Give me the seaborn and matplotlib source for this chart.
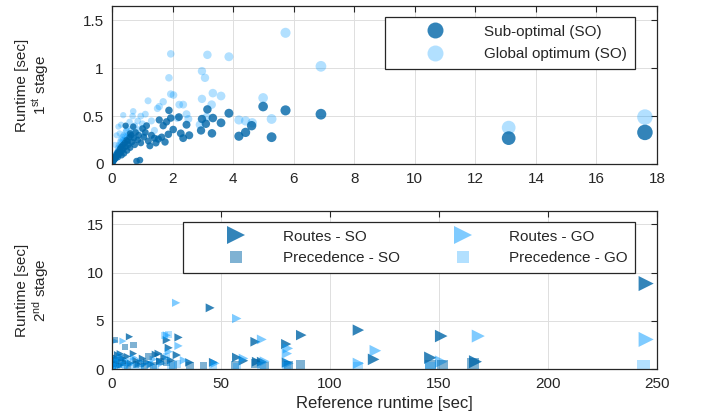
import numpy as np
import pandas as pd
import matplotlib
matplotlib.use("Agg")
import matplotlib.pyplot as plt
from matplotlib.lines import Line2D
import seaborn as sns

# ---------------- data: 1st stage ----------------
go1_x = [0.02, 0.04, 0.05, 0.06, 0.08, 0.09, 0.10, 0.12, 0.13, 0.15, 0.16, 0.18, 0.20, 0.21, 0.23,
         0.25, 0.27, 0.28, 0.30, 0.32, 0.33, 0.35, 0.37, 0.38, 0.40, 0.42, 0.44, 0.46, 0.48, 0.50,
         0.52, 0.55, 0.58, 0.60, 0.62, 0.65, 0.68, 0.70, 0.72, 0.75, 0.80, 0.85, 0.90, 0.95, 1.00,
         1.05, 1.10, 1.19, 1.30, 1.40, 1.50, 0.21, 0.37, 0.30, 0.15, 0.10, 0.25,
         0.07, 0.11, 0.14, 0.17, 0.19, 0.22, 0.26, 0.29, 0.34, 0.39, 0.43, 0.47,
         1.56, 1.69, 1.88, 1.94, 1.94, 2.03, 2.16, 2.22, 2.35, 2.46, 2.52, 2.90, 2.97, 2.97, 3.07,
         3.12, 3.15, 3.29, 3.33, 3.60, 3.86, 4.19, 4.41, 4.63, 4.99, 5.27, 5.73, 6.90, 13.1, 17.6]
go1_y = [0.01, 0.03, 0.02, 0.05, 0.04, 0.07, 0.05, 0.08, 0.10, 0.07, 0.12, 0.10, 0.14, 0.09, 0.16,
         0.12, 0.19, 0.15, 0.22, 0.13, 0.18, 0.25, 0.20, 0.30, 0.16, 0.24, 0.33, 0.21, 0.28, 0.38,
         0.26, 0.31, 0.44, 0.22, 0.35, 0.29, 0.50, 0.55, 0.33, 0.40, 0.27, 0.45, 0.36, 0.50, 0.42,
         0.30, 0.52, 0.66, 0.45, 0.35, 0.58, 0.39, 0.51, 0.41, 0.30, 0.20, 0.32,
         0.06, 0.09, 0.11, 0.13, 0.17, 0.20, 0.23, 0.26, 0.28, 0.24, 0.29, 0.35,
         0.60, 0.65, 0.90, 1.15, 0.73, 0.72, 0.48, 0.62, 0.62, 0.52, 0.47, 0.41, 0.97, 0.68, 0.90,
         0.49, 1.14, 0.62, 0.74, 0.71, 1.12, 0.46, 0.45, 0.43, 0.69, 0.47, 1.37, 1.02, 0.38, 0.49]

so1_x = [0.02, 0.03, 0.05, 0.07, 0.08, 0.10, 0.11, 0.13, 0.14, 0.16, 0.18, 0.20, 0.22, 0.24, 0.26,
         0.28, 0.30, 0.32, 0.34, 0.36, 0.38, 0.40, 0.42, 0.45, 0.48, 0.50, 0.52, 0.55, 0.58, 0.60,
         0.63, 0.66, 0.70, 0.72, 0.75, 0.78, 0.81, 0.85, 0.88, 0.92, 0.95, 1.01, 1.05, 1.10, 1.14,
         1.20, 1.25, 1.30, 1.40, 1.45, 0.45, 0.60,
         1.53, 1.56, 1.64, 1.69, 1.75, 1.80, 1.86, 1.88, 1.94, 2.02, 2.21, 2.27, 2.35, 2.46, 2.55,
         2.94, 2.97, 3.10, 3.15, 3.30, 3.33, 3.60, 3.86, 4.19, 4.41, 4.61, 4.99, 5.27, 5.73, 6.90,
         13.1, 17.6]
so1_y = [0.01, 0.02, 0.03, 0.04, 0.06, 0.05, 0.08, 0.06, 0.10, 0.08, 0.12, 0.07, 0.13, 0.10, 0.16,
         0.12, 0.18, 0.09, 0.14, 0.20, 0.16, 0.11, 0.22, 0.18, 0.25, 0.14, 0.24, 0.20, 0.28, 0.17,
         0.30, 0.23, 0.39, 0.27, 0.20, 0.33, 0.03, 0.25, 0.30, 0.04, 0.22, 0.37, 0.28, 0.33, 0.40,
         0.24, 0.19, 0.30, 0.27, 0.22, 0.40, 0.32,
         0.26, 0.46, 0.28, 0.40, 0.23, 0.44, 0.31, 0.56, 0.48, 0.36, 0.49, 0.32, 0.27, 0.41, 0.30,
         0.35, 0.47, 0.42, 0.57, 0.32, 0.48, 0.43, 0.53, 0.29, 0.33, 0.40, 0.60, 0.28, 0.56, 0.52,
         0.27, 0.33]

# ---------------- data: 2nd stage ----------------
rso_x = [0.5, 1, 1.5, 2, 2.5, 3, 3.7, 4, 5, 6, 7, 8, 8.5, 9.8, 11, 12, 14, 16, 18, 20, 21.3, 22, 24,
         25.1, 26, 27, 29.7, 30.5, 35.5, 45, 46.5, 57.2, 60.3, 65.7, 66.4, 68.7, 79.9, 80.2, 86.8,
         113, 120, 146, 151, 166.7, 245]
rso_y = [0.3, 0.8, 1.2, 0.5, 1.5, 0.9, 1.6, 0.4, 1.1, 0.7, 1.3, 3.35, 0.6, 1.6, 0.9, 0.5, 1.1, 0.7,
         0.5, 1.5, 1.6, 0.8, 1.2, 3.0, 2.2, 0.9, 1.45, 3.28, 0.69, 6.35, 0.69, 1.21, 0.86, 2.83,
         0.76, 0.76, 2.59, 0.66, 3.52, 4.04, 1.0, 1.17, 3.42, 0.76, 8.87]

rgo_x = [0.5, 1.4, 2, 3, 4, 5, 6, 8, 10, 13, 15, 19, 23, 25.1, 26, 29.4, 30.5, 33, 47.3, 57.2, 60.3,
         68.7, 70, 80.2, 80.7, 81, 113, 120.8, 151, 168, 245]
rgo_y = [0.5, 2.9, 1.0, 0.3, 1.4, 2.9, 0.9, 0.4, 1.2, 0.8, 0.5, 1.0, 0.6, 3.5, 1.8, 6.87, 2.4, 0.9,
         0.59, 5.24, 1.1, 3.07, 0.8, 1.6, 2.14, 0.59, 0.59, 1.9, 0.76, 3.42, 3.07]

pso_x = [0.3, 0.8, 1.4, 2, 3, 4, 5, 6, 7, 9.8, 11, 12.9, 15, 16.7, 19, 22, 25, 28, 35.8, 42, 56.5,
         65.7, 70, 81, 86.3, 146, 151.7, 165.6]
pso_y = [0.2, 0.5, 3.0, 0.9, 0.4, 1.2, 0.6, 2.3, 0.3, 2.5, 0.5, 0.6, 0.3, 1.3, 0.4, 0.8, 0.66, 0.4,
         0.38, 0.3, 0.35, 0.6, 0.3, 0.35, 0.48, 0.4, 0.4, 0.55]

pgo_x = [0.2, 0.6, 1.2, 2, 3, 4.5, 6, 8, 10, 13, 17, 20, 24, 25, 25.9, 27, 30, 46.5, 57.2, 68.7,
         80.2, 113, 146, 244]
pgo_y = [0.1, 0.3, 0.7, 0.2, 1.0, 0.4, 0.2, 0.8, 0.3, 0.2, 0.5, 0.2, 3.5, 1.3, 3.6, 0.3, 0.5, 0.24,
         0.24, 0.24, 0.24, 0.24, 0.14, 0.24]

top_xticks = [0, 2, 4, 6, 8, 10, 12, 14, 16, 18]
top_yticks = [0, 0.5, 1, 1.5]
bot_xticks = [0, 50, 100, 150, 200, 250]
bot_yticks = [0, 5, 10, 15]

# ---------------- style ----------------
sns.set_style("white")
plt.rcParams["font.family"] = ["Liberation Sans", "DejaVu Sans"]
plt.rcParams["mathtext.fontset"] = "custom"
plt.rcParams["mathtext.rm"] = "Liberation Sans"
plt.rcParams["mathtext.it"] = "Liberation Sans:italic"
plt.rcParams["mathtext.bf"] = "Liberation Sans:bold"

TXT = "#262626"
DARK = (0.0, 0.40, 0.66)
LIGHT = (0.0, 0.60, 1.0)

fig = plt.figure(figsize=(7.01, 4.19), dpi=100)
ax1 = fig.add_axes([0.1598, 0.6086, 0.7775, 0.3771])
ax2 = fig.add_axes([0.1598, 0.1193, 0.7775, 0.3771])

def style(ax):
    ax.set_axisbelow(True)
    ax.grid(True, color="#dedede", lw=0.7)
    for s in ax.spines.values():
        s.set_visible(True)
        s.set_color(TXT)
        s.set_linewidth(0.9)
    ax.tick_params(direction="in", top=True, right=True, length=4, width=0.8,
                   colors=TXT, labelsize=11, labelcolor=TXT, pad=6)

# top panel
d_go1 = pd.DataFrame({"x": go1_x, "y": go1_y})
d_so1 = pd.DataFrame({"x": so1_x, "y": so1_y})
sns.scatterplot(data=d_go1, x="x", y="y", size="x", sizes=(18, 125), size_norm=(0, 17.6),
                color=LIGHT, alpha=0.3, linewidth=0, legend=False, ax=ax1)
sns.scatterplot(data=d_so1, x="x", y="y", size="x", sizes=(18, 125), size_norm=(0, 17.6),
                color=DARK, alpha=0.8, linewidth=0, legend=False, ax=ax1)
ax1.set_xlim(0, 18)
ax1.set_ylim(0, 1.65)
ax1.set_xticks(top_xticks)
ax1.set_xticklabels([f"{v:g}" for v in top_xticks])
ax1.set_yticks(top_yticks)
ax1.set_yticklabels([f"{v:g}" for v in top_yticks])
ax1.set_xlabel("")
ax1.set_ylabel("Runtime [sec]\n1$^{\\mathrm{st}}$ stage", fontsize=11, color=TXT, linespacing=1.1)
ax1.yaxis.set_label_coords(-0.112, 0.5)
style(ax1)

h1 = [Line2D([], [], marker="o", ls="", ms=11.5, color=DARK, alpha=0.8, mew=0),
      Line2D([], [], marker="o", ls="", ms=11.5, color=LIGHT, alpha=0.3, mew=0)]
leg1 = ax1.legend(h1, ["Sub-optimal (SO)", "Global optimum (SO)"], loc="upper left",
                  bbox_to_anchor=(0.501, 0.930), borderaxespad=0, fontsize=11,
                  handlelength=5.6, handletextpad=0.4, borderpad=0.5, labelspacing=0.55,
                  frameon=True, fancybox=False, edgecolor=TXT, framealpha=1)
leg1.get_frame().set_linewidth(0.9)
for t in leg1.get_texts():
    t.set_color(TXT)

# bottom panel
d_rso = pd.DataFrame({"x": rso_x, "y": rso_y})
d_rgo = pd.DataFrame({"x": rgo_x, "y": rgo_y})
d_pso = pd.DataFrame({"x": pso_x, "y": pso_y})
d_pgo = pd.DataFrame({"x": pgo_x, "y": pgo_y})
sns.scatterplot(data=d_rso, x="x", y="y", size="x", sizes=(24, 120), size_norm=(0, 250),
                color=DARK, alpha=0.8, marker=">", linewidth=0, legend=False, ax=ax2)
sns.scatterplot(data=d_rgo, x="x", y="y", size="x", sizes=(24, 120), size_norm=(0, 250),
                color=LIGHT, alpha=0.5, marker=">", linewidth=0, legend=False, ax=ax2)
sns.scatterplot(data=d_pso, x="x", y="y", size="x", sizes=(20, 90), size_norm=(0, 250),
                color=DARK, alpha=0.5, marker="s", linewidth=0, legend=False, ax=ax2)
sns.scatterplot(data=d_pgo, x="x", y="y", size="x", sizes=(20, 90), size_norm=(0, 250),
                color=LIGHT, alpha=0.3, marker="s", linewidth=0, legend=False, ax=ax2)
ax2.set_xlim(0, 250)
ax2.set_ylim(0, 16.4)
ax2.set_xticks(bot_xticks)
ax2.set_xticklabels([f"{v:g}" for v in bot_xticks])
ax2.set_yticks(bot_yticks)
ax2.set_yticklabels([f"{v:g}" for v in bot_yticks])
ax2.set_xlabel("Reference runtime [sec]", fontsize=12, color=TXT, labelpad=3)
ax2.set_ylabel("Runtime [sec]\n2$^{\\mathrm{nd}}$ stage", fontsize=11, color=TXT, linespacing=1.1)
ax2.yaxis.set_label_coords(-0.112, 0.5)
style(ax2)

h2 = [Line2D([], [], marker=">", ls="", ms=12.5, color=DARK, alpha=0.8, mew=0),
      Line2D([], [], marker="s", ls="", ms=9, color=DARK, alpha=0.5, mew=0),
      Line2D([], [], marker=">", ls="", ms=12.5, color=LIGHT, alpha=0.5, mew=0),
      Line2D([], [], marker="s", ls="", ms=9, color=LIGHT, alpha=0.3, mew=0)]
leg2 = ax2.legend(h2, ["Routes - SO", "Precedence - SO", "Routes - GO", "Precedence - GO"],
                  ncol=2, loc="upper left", bbox_to_anchor=(0.130, 0.930), borderaxespad=0,
                  fontsize=11, handlelength=6.0, handletextpad=0.05, borderpad=0.5,
                  labelspacing=0.5, columnspacing=1.1,
                  frameon=True, fancybox=False, edgecolor=TXT, framealpha=1)
leg2.get_frame().set_linewidth(0.9)
for t in leg2.get_texts():
    t.set_color(TXT)

fig.savefig("out.png", dpi=100)
